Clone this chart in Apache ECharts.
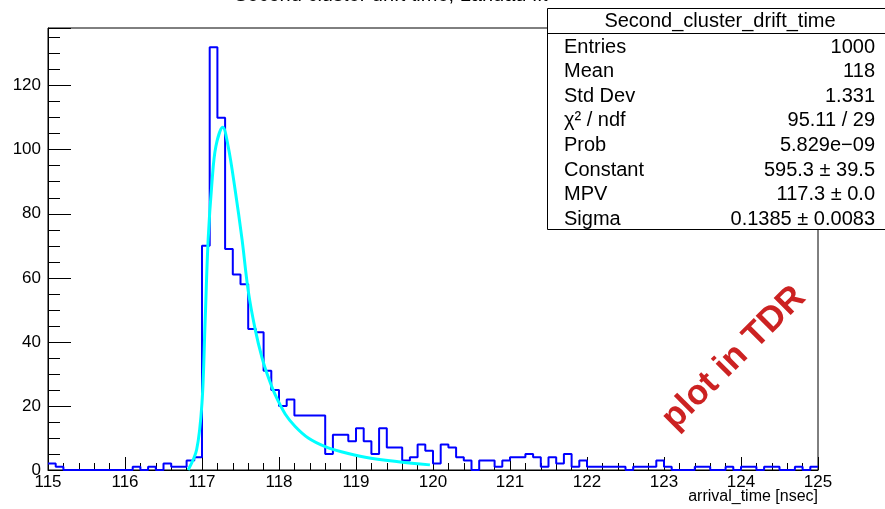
<!DOCTYPE html>
<html>
<head>
<meta charset="utf-8">
<script src="https://cdn.jsdelivr.net/npm/echarts@6/dist/echarts.min.js"></script>
<style>
html,body{margin:0;padding:0;background:#fff;}
#c{width:885px;height:509px;}
</style>
</head>
<body>
<div id="c"></div>
<script>
// ---- data ----
var binLow = 115;
var binWidth = 0.1;
var counts = [
  2,1,0,0,0,0,0,0,0,0,
  0,1,0,1,0,2,1,1,3,4,
  70,132,110,69,61,58,44,43,31,25,
  20,22,17,17,17,17,5,11,11,9,
  13,9,5,13,7,7,3,4,8,6,
  2,8,7,4,3,0,3,3,1,3,
  4,4,5,4,1,4,2,5,1,3,
  1,1,1,1,1,0,1,1,1,3,
  1,0,0,0,1,1,0,0,1,0,
  1,1,0,1,1,0,0,1,0,1
];
var fitX = [116.82,116.93,117.0,117.04,117.08,117.13,117.18,117.27,117.34,117.43,117.52,117.6,117.69,117.78,117.86,117.95,118.08,118.21,118.38,118.6,118.81,119.12,119.55,119.96];
var fitY = [0,6.3,21,46,72,90,101,107,101,87.5,72,56,44,35,29,23.5,17.5,13.6,10,7.3,5.7,4.0,2.6,1.6];
var statsTitle = 'Second_cluster_drift_time';
var statsNames = ['Entries','Mean','Std Dev','\u03C7\u00B2 / ndf','Prob','Constant','MPV','Sigma'];
var statsValues = ['1000','118','1.331','95.11 / 29','5.829e\u221209','595.3 \u00B1 39.5','117.3 \u00B1 0.0','0.1385 \u00B1 0.0083'];
var xTitle = 'arrival_time [nsec]';
var chartTitle = 'Second cluster drift time, Landau fit';
var watermark = 'plot in TDR';

// ---- build ----
var histData = [];
for (var i = 0; i < counts.length; i++) histData.push([binLow + i * binWidth, counts[i]]);
histData.push([binLow + counts.length * binWidth, counts[counts.length - 1]]);
var fitData = fitX.map(function (x, i) { return [x, fitY[i]]; });

var FONT = '"Liberation Sans", Arial, Helvetica, sans-serif';
var chart = echarts.init(document.getElementById('c'), null, {renderer: 'canvas'});

var graphics = [];
graphics.push({
  type: 'text', left: 234, top: -15, z: 1,
  style: {text: chartTitle, font: '20px ' + FONT, fill: '#000'}
});
graphics.push({
  type: 'text', x: 734, y: 358, rotation: Math.PI / 4, z: 50,
  style: {text: watermark, font: 'bold 35px ' + FONT, fill: '#cc2222', align: 'center', verticalAlign: 'middle'}
});
// stats box
graphics.push({
  type: 'rect', z: 100,
  shape: {x: 547.5, y: 8.5, width: 345, height: 221},
  style: {fill: '#fff', stroke: '#000', lineWidth: 1}
});
graphics.push({
  type: 'line', z: 101,
  shape: {x1: 547.5, y1: 33.5, x2: 885, y2: 33.5},
  style: {stroke: '#000', lineWidth: 1}
});
graphics.push({
  type: 'text', z: 102, x: 720, y: 21,
  style: {text: statsTitle, font: '20px ' + FONT, fill: '#000', align: 'center', verticalAlign: 'middle'}
});
for (var k = 0; k < statsNames.length; k++) {
  var yy = 47 + k * 24.6;
  graphics.push({
    type: 'text', z: 102, x: 564, y: yy,
    style: {text: statsNames[k], font: '20px ' + FONT, fill: '#000', align: 'left', verticalAlign: 'middle'}
  });
  graphics.push({
    type: 'text', z: 102, x: 875, y: yy,
    style: {text: statsValues[k], font: '20px ' + FONT, fill: '#000', align: 'right', verticalAlign: 'middle'}
  });
}
graphics.push({
  type: 'text', z: 102, right: 67, top: 489,
  style: {text: xTitle, font: '16px ' + FONT, fill: '#000'}
});

chart.setOption({
  animation: false,
  backgroundColor: '#fff',
  grid: {left: 48, right: 67, top: 28, bottom: 39, show: true, borderColor: '#000', borderWidth: 1, backgroundColor: 'transparent', containLabel: false},
  xAxis: {
    type: 'value', min: 115, max: 125, interval: 1,
    axisLine: {show: true, onZero: false, lineStyle: {color: '#000', width: 1}},
    axisTick: {show: true, inside: true, length: 13, lineStyle: {color: '#000'}},
    minorTick: {show: true, splitNumber: 5, length: 7, lineStyle: {color: '#000'}},
    splitLine: {show: false},
    axisLabel: {color: '#000', fontFamily: FONT, fontSize: 17, margin: 4}
  },
  yAxis: {
    type: 'value', min: 0, max: 138, interval: 20,
    axisLine: {show: true, lineStyle: {color: '#000', width: 1}},
    axisTick: {show: true, inside: true, length: 23, lineStyle: {color: '#000'}},
    minorTick: {show: true, splitNumber: 4, length: 12, lineStyle: {color: '#000'}},
    splitLine: {show: false},
    axisLabel: {color: '#000', fontFamily: FONT, fontSize: 17, margin: 7, showMaxLabel: false}
  },
  series: [
    {
      type: 'line', data: histData, step: 'end', symbol: 'none', clip: true,
      lineStyle: {color: '#0000ff', width: 2}, z: 3
    },
    {
      type: 'line', data: fitData, smooth: 0.35, symbol: 'none', clip: true,
      lineStyle: {color: '#00ffff', width: 3}, z: 4
    }
  ],
  graphic: graphics
});
</script>
</body>
</html>
